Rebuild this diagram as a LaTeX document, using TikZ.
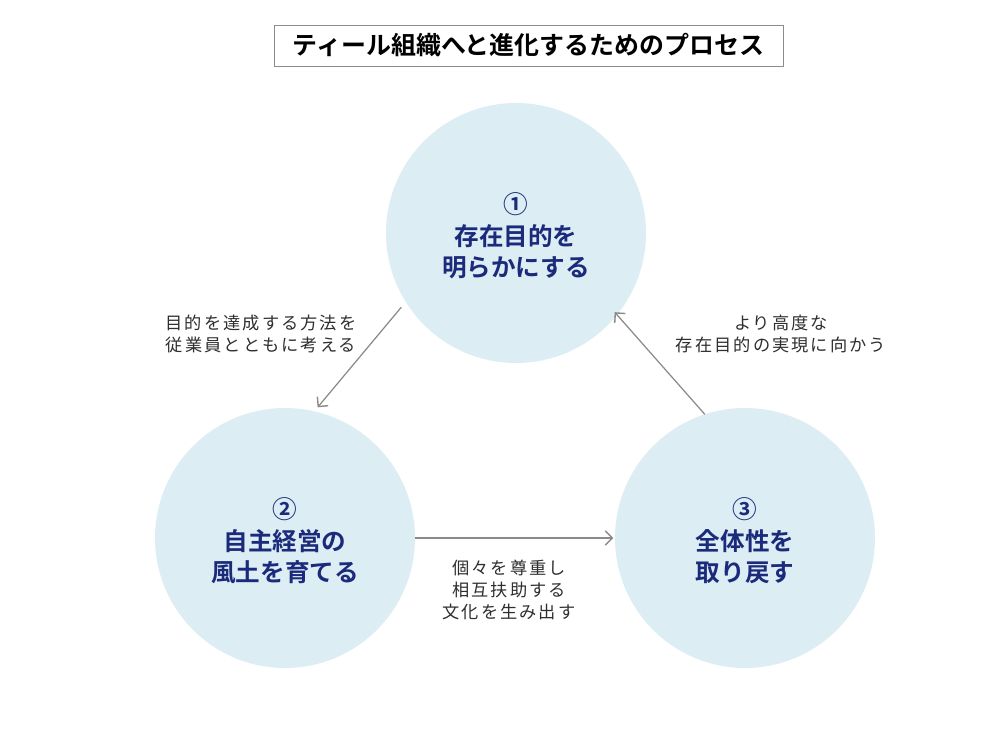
\documentclass[tikz,border=0pt]{standalone}
\usepackage{fontspec}
\setmainfont{Noto Sans CJK JP}[BoldFont={Noto Sans CJK JP Bold}]
\newfontfamily\spacedjp{Noto Sans CJK JP}[LetterSpace=12]
\usetikzlibrary{arrows.meta}
\definecolor{circfill}{HTML}{DCEDF4}
\definecolor{navy}{HTML}{1B2A7A}
\definecolor{arrowgray}{HTML}{8A8A8A}
\definecolor{labeltext}{HTML}{2E2E2E}
\tikzset{
  stagecircle/.style={circle, fill=circfill, minimum size=5.2cm, inner sep=0pt, outer sep=0pt},
  stagetext/.style={align=center, inner sep=0pt, font=\fontsize{14pt}{18pt}\selectfont\bfseries, text=navy},
  flowarrow/.style={draw=arrowgray, line width=0.7pt, -{Straight Barb[length=4pt,width=8pt,line width=0.8pt]}},
  flowlabel/.style={align=center, font=\spacedjp\fontsize{9.8pt}{12.6pt}\selectfont, text=labeltext, inner sep=0pt},
  titlebox/.style={draw=black!45, line width=0.5pt, minimum width=10.18cm, minimum height=0.82cm,
    font=\fontsize{14.2pt}{16pt}\selectfont\bfseries, text=black}
}
\begin{document}
\begin{tikzpicture}[x=0.02cm,y=-0.02cm]
\useasboundingbox (0,0) rectangle (1000,750);
\fill[white] (0,0) rectangle (1000,750);
\node[titlebox] (title) at (528.5,45.5) {ティール組織へと進化するためのプロセス};
\node[stagecircle] (c1) at (516,233) {};
\node[stagecircle] (c2) at (285,538) {};
\node[stagecircle] (c3) at (745,538) {};
\node[stagetext] (t1) at (516,236) {①\\存在目的を\\明らかにする};
\node[stagetext] (t2) at (285,541) {②\\自主経営の\\風土を育てる};
\node[stagetext] (t3) at (745,541) {③\\全体性を\\取り戻す};
\draw[flowarrow, shorten <=4pt, shorten >=3pt] (c1.212.5) -- (c2.77);
\draw[flowarrow, shorten >=1pt] (c2.east) -- (c3.west);
\draw[flowarrow, shorten >=-2pt] (c3.108.7) -- (c1.321.4);
\node[flowlabel] (l1) at (261,334) {目的を達成する方法を\\従業員とともに考える};
\node[flowlabel] (l3) at (781,334) {より高度な\\存在目的の実現に向かう};
\node[flowlabel] (l2) at (509,590) {個々を尊重し\\相互扶助する\\文化を生み出す};
\end{tikzpicture}
\end{document}
